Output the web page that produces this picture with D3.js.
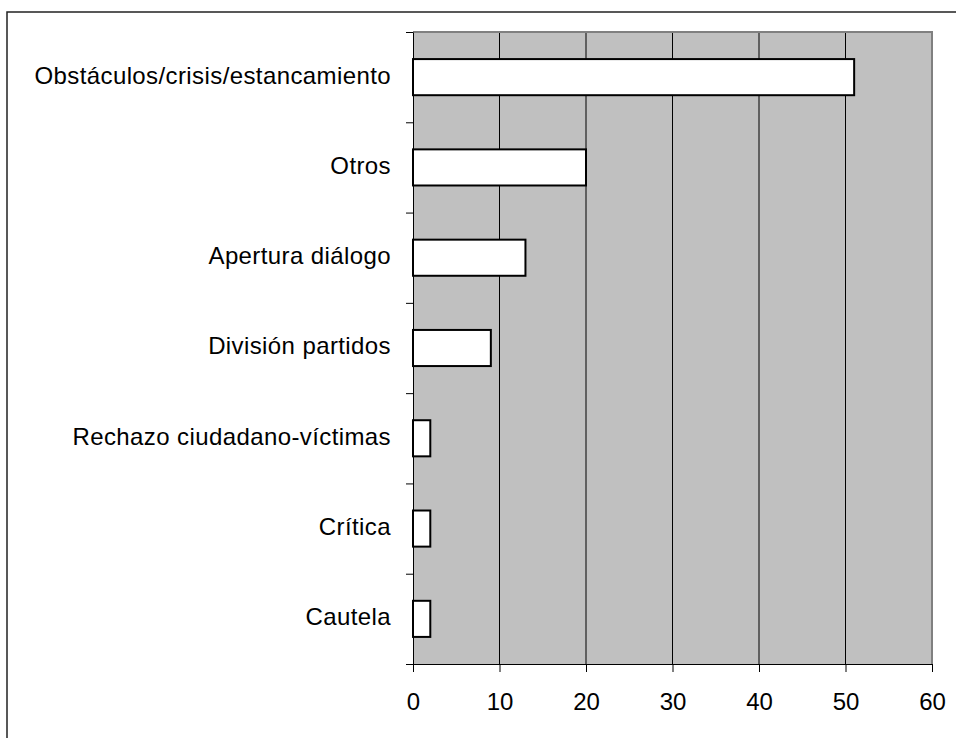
<!DOCTYPE html>
<html>
<head>
<meta charset="utf-8">
<script src="https://cdn.jsdelivr.net/npm/d3@7"></script>
<style>
  body { margin: 0; background: #fff; }
  svg { display: block; }
  text { font-family: "Liberation Sans", Arial, sans-serif; fill: #000; }
</style>
</head>
<body>
<svg width="956" height="738"></svg>
<script>
var categories = ["Obstáculos/crisis/estancamiento", "Otros", "Apertura diálogo",
  "División partidos", "Rechazo ciudadano-víctimas", "Crítica", "Cautela"];
var values = [51, 20, 13, 9, 2, 2, 2];
var xTicks = [0, 10, 20, 30, 40, 50, 60];

var svg = d3.select("svg");
var plot = {left: 413, right: 932, top: 32, bottom: 664};

// outer chart frame (runs off the page on right and bottom)
svg.append("rect")
  .attr("x", 7).attr("y", 12)
  .attr("width", 1000).attr("height", 800)
  .attr("fill", "none")
  .attr("stroke", "#222")
  .attr("stroke-width", 1.5);

var xScale = d3.scaleLinear()
  .domain([0, 60])
  .range([plot.left, plot.right]);

var yScale = d3.scaleBand()
  .domain(categories)
  .range([plot.top, plot.bottom])
  .paddingInner(0.6)
  .paddingOuter(0.3);

// plot background
svg.append("rect")
  .attr("x", plot.left).attr("y", plot.top)
  .attr("width", plot.right - plot.left)
  .attr("height", plot.bottom - plot.top)
  .attr("fill", "#c0c0c0");

// gridlines
svg.append("g")
  .selectAll("line")
  .data(xTicks.slice(1, -1))
  .enter()
  .append("line")
  .attr("x1", function(d) { return xScale(d); })
  .attr("x2", function(d) { return xScale(d); })
  .attr("y1", plot.top)
  .attr("y2", plot.bottom)
  .attr("stroke", "#000")
  .attr("stroke-width", 1);

// gray border top and right
svg.append("path")
  .attr("d", "M" + plot.left + "," + plot.top + "H" + plot.right + "V" + plot.bottom)
  .attr("fill", "none")
  .attr("stroke", "#808080")
  .attr("stroke-width", 2);

// bars
svg.append("g")
  .selectAll("rect")
  .data(values)
  .enter()
  .append("rect")
  .attr("x", xScale(0))
  .attr("y", function(d, i) { return yScale(categories[i]); })
  .attr("width", function(d) { return xScale(d) - xScale(0); })
  .attr("height", yScale.bandwidth())
  .attr("fill", "#fff")
  .attr("stroke", "#000")
  .attr("stroke-width", 2);

// x axis
var xAxis = svg.append("g")
  .attr("transform", "translate(0," + plot.bottom + ")")
  .call(d3.axisBottom(xScale).tickValues(xTicks).tickSize(8).tickSizeOuter(0).tickPadding(21));
xAxis.select(".domain").attr("stroke", "#000");
xAxis.selectAll(".tick line").attr("stroke", "#000");
xAxis.selectAll("text")
  .attr("font-size", "24px")
  .attr("font-family", "Liberation Sans, Arial, sans-serif");

// y axis: ticks at category boundaries
var yEdge = d3.scaleLinear().domain([0, categories.length]).range([plot.top, plot.bottom]);
var yAxis = svg.append("g")
  .attr("transform", "translate(" + plot.left + ",0)")
  .call(d3.axisLeft(yEdge).tickValues(d3.range(categories.length + 1)).tickSize(7).tickSizeOuter(0).tickFormat(""));
yAxis.select(".domain").attr("stroke", "#000");
yAxis.selectAll(".tick line").attr("stroke", "#000");

// category labels
svg.append("g")
  .selectAll("text")
  .data(categories)
  .enter()
  .append("text")
  .text(function(d) { return d; })
  .attr("x", 391)
  .attr("y", function(d) { return yScale(d) + yScale.bandwidth() / 2 - 2; })
  .attr("dy", "0.35em")
  .attr("text-anchor", "end")
  .attr("font-size", "24px")
  .attr("letter-spacing", "0.4px");
</script>
</body>
</html>
